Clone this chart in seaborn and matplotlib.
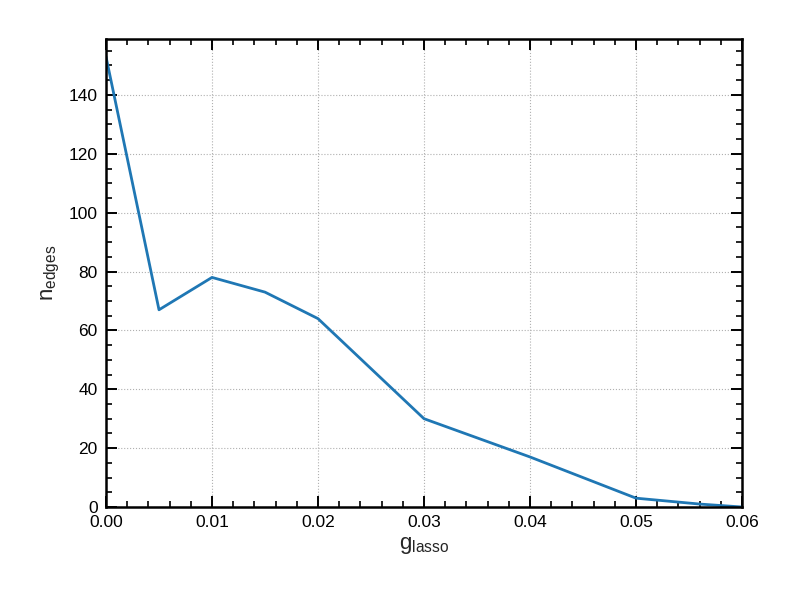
import matplotlib
matplotlib.use("Agg")
import matplotlib.pyplot as plt
import seaborn as sns
import pandas as pd
from matplotlib.ticker import MultipleLocator

g_lasso = [0.0, 0.005, 0.01, 0.015, 0.02, 0.03, 0.04, 0.05, 0.056, 0.06]
n_edges = [153, 67, 78, 73, 64, 30, 17, 3, 1, 0]

sns.set_theme(style="ticks")
plt.rcParams['font.family'] = ['Liberation Sans', 'DejaVu Sans']
plt.rcParams['mathtext.fontset'] = 'custom'
plt.rcParams['mathtext.rm'] = 'Liberation Sans'
plt.rcParams['mathtext.it'] = 'Liberation Sans'
plt.rcParams['mathtext.default'] = 'regular'

df = pd.DataFrame({"g": g_lasso, "n": n_edges})

fig = plt.figure(figsize=(8, 6), dpi=100)
ax = fig.add_axes([0.1325, 0.155, 0.795, 0.78])
sns.lineplot(data=df, x="g", y="n", ax=ax, color="#1f77b4", linewidth=2)

ax.set_xlim(0, 0.06)
ax.set_ylim(0, 159)
ax.xaxis.set_major_locator(MultipleLocator(0.01))
ax.xaxis.set_minor_locator(MultipleLocator(0.002))
ax.yaxis.set_major_locator(MultipleLocator(20))
ax.yaxis.set_minor_locator(MultipleLocator(5))
ax.xaxis.set_major_formatter(matplotlib.ticker.FormatStrFormatter('%.2f'))

ax.grid(True, which='major', linestyle=':', color='#b0b0b0', linewidth=0.8)
ax.tick_params(which='both', direction='in', top=True, right=True, labelsize=12.5, colors='black')
ax.tick_params(which='major', length=8, width=1.4, pad=6)
ax.tick_params(which='minor', length=4, width=1.2)
for s in ax.spines.values():
    s.set_linewidth(1.8)
    s.set_color('black')

ax.set_xlabel(r'$g_{lasso}$', fontsize=16, labelpad=3)
ax.set_ylabel(r'$n_{edges}$', fontsize=16, labelpad=5)

fig.savefig("out.png", dpi=100)
